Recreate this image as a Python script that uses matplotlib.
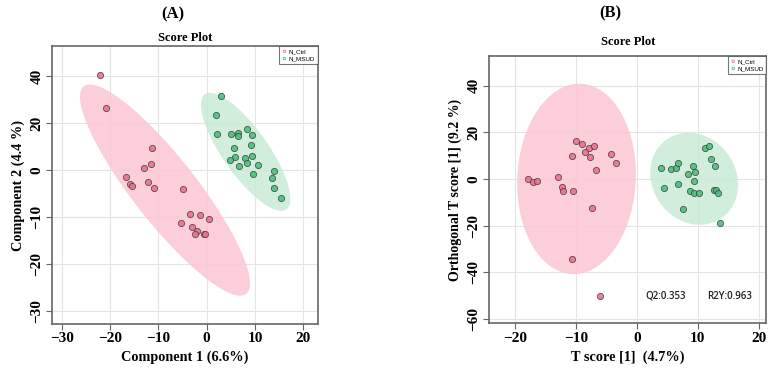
import numpy as np
import matplotlib
matplotlib.use("Agg")
import matplotlib.pyplot as plt

plt.rcParams['font.family'] = ['Liberation Serif', 'DejaVu Serif']

# panel A (PLS-DA) scores
a_ctrl_x = [-22.1, -20.8, -11.3, -12.9, -11.6, -16.6, -15.8, -15.5, -12.2, -10.9,
            -4.9, -3.4, -1.3, 0.5, -5.3, -3.0, -2.0, -2.4, -0.6, -0.3]
a_ctrl_y = [40.6, 26.7, 9.4, 0.9, 2.6, -2.8, -6.1, -6.8, -5.2, -7.8,
            -8.2, -18.9, -19.3, -20.7, -22.8, -24.5, -26.0, -27.5, -27.2, -27.4]
a_msud_x = [3.0, 1.9, 2.2, 5.0, 6.5, 6.5, 8.3, 9.3, 9.1, 5.7, 5.9,
            4.8, 6.7, 8.0, 8.3, 9.4, 10.7, 9.5, 14.0, 13.5, 13.9, 15.3]
a_msud_y = [31.5, 23.7, 15.3, 15.5, 15.9, 14.6, 17.4, 14.9, 10.5, 9.4, 5.5,
            4.3, 1.8, 5.1, 3.0, 6.0, 2.1, -1.7, -0.4, -3.4, -7.8, -11.8]
a_xticks = [-30, -20, -10, 0, 10, 20]
a_yticks = [40, 20, 0, -20, -40, -60]
a_yticklabels = ['40', '20', '0', '\u221210', '\u221220', '\u221230']

# panel B (OPLS-DA) scores
b_ctrl_x = [-17.9, -17.0, -16.4, -12.9, -12.3, -12.1, -10.5, -10.7, -10.0, -9.0,
            -8.5, -7.8, -7.0, -7.7, -6.8, -4.3, -3.5, -7.4, -10.6, -6.0]
b_ctrl_y = [0.0, -1.4, -0.7, 0.7, -3.4, -5.0, -5.0, 10.0, 16.3, 15.1,
            11.7, 13.3, 14.1, 9.4, 4.0, 10.6, 7.0, -12.3, -34.4, -50.1]
b_msud_x = [3.9, 4.4, 5.6, 6.5, 6.7, 6.8, 8.4, 9.3, 9.5, 9.4, 8.7,
            9.4, 10.2, 7.6, 11.2, 11.8, 12.2, 12.8, 12.7, 13.0, 13.3, 13.6]
b_msud_y = [4.6, -4.1, 4.1, 4.7, 7.0, -2.3, 2.3, 5.6, 3.1, -0.7, -5.0,
            -6.1, -5.9, -12.7, 13.1, 14.3, 8.4, 5.7, -4.9, -4.9, -6.0, -19.0]
b_xticks = [-20, -10, 0, 10, 20]
b_yticks = [40, 20, 0, -20, -40, -60]

q2 = 0.353
r2y = 0.963

red_pt = '#f26d8d'
green_pt = '#45c27a'
red_fill = '#fcc6d3'
green_fill = '#c8ebd5'


def conf_ellipse(x, y, n=200):
    # 95% confidence region from the group covariance
    pts = np.column_stack([x, y])
    mu = pts.mean(axis=0)
    cov = np.cov(pts, rowvar=False)
    vals, vecs = np.linalg.eigh(cov)
    r = np.sqrt(5.991)
    t = np.linspace(0, 2 * np.pi, n)
    circ = np.vstack([np.cos(t), np.sin(t)])
    e = vecs @ (np.sqrt(vals)[:, None] * r * circ)
    return mu[0] + e[0], mu[1] + e[1]


def style_axes(ax):
    ax.grid(True, color='#e4e4e4', lw=0.8)
    ax.set_axisbelow(True)
    for s in ax.spines.values():
        s.set_color('#666666')
        s.set_linewidth(1.2)
    ax.tick_params(direction='out', length=4, color='#666666', width=0.8,
                   labelsize=11, pad=2)
    for lab in ax.get_xticklabels() + ax.get_yticklabels():
        lab.set_fontweight('bold')
    for lab in ax.get_yticklabels():
        lab.set_rotation(90)
        lab.set_va('center')


def draw_group(ax, x, y, pt, fill, label):
    ex, ey = conf_ellipse(x, y)
    ax.fill(ex, ey, color=fill, lw=0, alpha=0.85, zorder=1)
    ax.scatter(x, y, s=20, c=pt, edgecolors='#444444', linewidths=0.6,
               alpha=0.9, zorder=3, label=label)


fig = plt.figure(figsize=(7.75, 3.71), dpi=100)

axA = fig.add_axes([0.0671, 0.1267, 0.343, 0.749])
draw_group(axA, a_ctrl_x, a_ctrl_y, red_pt, red_fill, 'N_Ctrl')
draw_group(axA, a_msud_x, a_msud_y, green_pt, green_fill, 'N_MSUD')
axA.set_xlim(-32.0, 23.0)
axA.set_ylim(-65.7, 52.9)
axA.set_xticks(a_xticks)
axA.set_yticks(a_yticks)
axA.set_yticklabels(a_yticklabels)
style_axes(axA)
axA.set_title('Score Plot', fontsize=9, fontweight='bold', pad=4)
axA.set_xlabel('Component 1 (6.6%)', fontsize=10.3, fontweight='bold', labelpad=4)
axA.set_ylabel('Component 2 (4.4 %)', fontsize=10.3, fontweight='bold', labelpad=4)

axB = fig.add_axes([0.631, 0.1286, 0.358, 0.7205])
draw_group(axB, b_ctrl_x, b_ctrl_y, red_pt, red_fill, 'N_Ctrl')
draw_group(axB, b_msud_x, b_msud_y, green_pt, green_fill, 'N_MSUD')
axB.set_xlim(-24.3, 21.3)
axB.set_ylim(-61.9, 52.7)
axB.set_xticks(b_xticks)
axB.set_yticks(b_yticks)
style_axes(axB)
axB.set_title('Score Plot', fontsize=9, fontweight='bold', pad=8)
axB.set_xlabel('T score [1]  (4.7%)', fontsize=10.3, fontweight='bold', labelpad=4)
axB.set_ylabel('Orthogonal T score [1] (9.2 %)', fontsize=10, fontweight='bold', labelpad=4)
axB.text(4.8, -50.4, 'Q2:%.3f' % q2, ha='center', va='center', fontsize=7,
         family=['Open Sans', 'DejaVu Sans'], fontweight='semibold', color='#222222')
axB.text(15.2, -50.4, 'R2Y:%.3f' % r2y, ha='center', va='center', fontsize=7,
         family=['Open Sans', 'DejaVu Sans'], fontweight='semibold', color='#222222')

for ax in (axA, axB):
    leg = ax.legend(loc='upper right', fontsize=4.5, frameon=True, fancybox=False,
                    borderpad=0.4, handletextpad=0.2, markerscale=0.4,
                    borderaxespad=0.0, labelspacing=0.3, handlelength=1.0,
                    prop={'family': 'Liberation Sans', 'size': 4.5})
    leg.get_frame().set_edgecolor('#555555')
    leg.get_frame().set_linewidth(0.8)
    for h in leg.legend_handles:
        h.set_facecolor('none')
        h.set_alpha(1)
    leg.legend_handles[0].set_edgecolor(red_pt)
    leg.legend_handles[1].set_edgecolor(green_pt)

fig.text(0.223, 0.962, '(A)', ha='center', va='center', fontsize=12, fontweight='bold')
fig.text(0.787, 0.965, '(B)', ha='center', va='center', fontsize=12, fontweight='bold')

fig.savefig('out.png', dpi=100)
